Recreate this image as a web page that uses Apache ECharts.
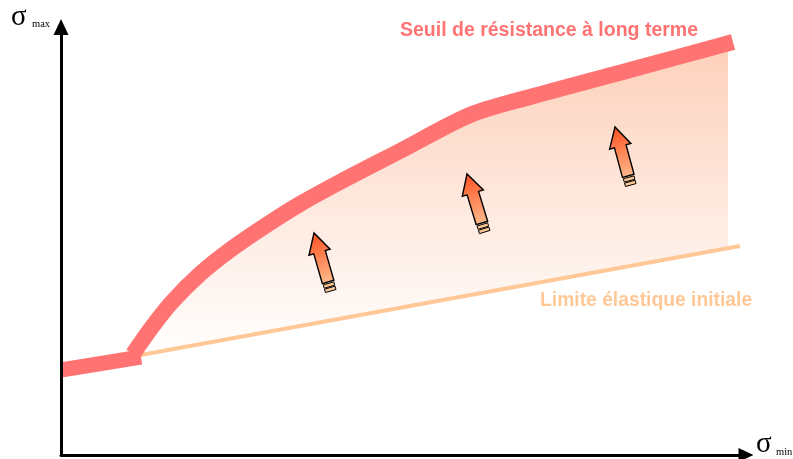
<!DOCTYPE html>
<html><head><meta charset="utf-8">
<script src="https://cdn.jsdelivr.net/npm/echarts@6/dist/echarts.min.js"></script>
<style>html,body{margin:0;padding:0;background:#fff}#c{width:793px;height:459px}</style>
</head><body><div id="c"></div>
<script>
// Data (arbitrary units: x = σmin, y = σmax)
const kneeX = [0, 80];
const kneeY = [85, 98];
const seuilX = [72, 91, 111, 139, 169, 204, 239, 279, 339, 409, 469, 569, 672];
const seuilY = [101, 128, 153, 181, 205, 229, 251, 273, 304, 340, 358, 385, 413];
const limiteX = [74, 679];
const limiteY = [99, 209];
const fillEndX = 667;
const arrowTipX = [253, 406, 554];
const arrowTipY = [222, 281, 328];
const arrowTailX = [270, 424, 570];
const arrowTailY = [163, 222, 269];
const seuilLabel = 'Seuil de résistance à long terme';
const limiteLabel = 'Limite élastique initiale';

const RED = '#ff7373';
const ORANGE = '#ffc896';

const chart = echarts.init(document.getElementById('c'), null, {renderer: 'canvas'});

function pairs(xs, ys) { return xs.map((x, i) => [x, ys[i]]); }

const arrowData = arrowTipX.map((x, i) => [x, arrowTipY[i], arrowTailX[i], arrowTailY[i]]);
const SERIF = '"Liberation Serif", "Times New Roman", serif';
const SANS = '"Liberation Sans", Arial, sans-serif';

chart.setOption({
  animation: false,
  grid: {left: 61, top: 27, right: 47, bottom: 4},
  xAxis: {
    type: 'value', min: 0, max: 685, z: 10,
    axisLine: {show: true, symbol: ['none', 'triangle'], symbolSize: [14, 15], lineStyle: {color: '#000', width: 3}},
    axisTick: {show: false}, axisLabel: {show: false}, splitLine: {show: false}
  },
  yAxis: {
    type: 'value', min: 0, max: 428, z: 10,
    axisLine: {show: true, symbol: ['none', 'triangle'], symbolSize: [15, 16], lineStyle: {color: '#000', width: 3}},
    axisTick: {show: false}, axisLabel: {show: false}, splitLine: {show: false}
  },
  graphic: [
    {type: 'text', x: 11, y: 17, style: {text: 'σ', fill: '#000', fontSize: 29, fontFamily: SERIF, verticalAlign: 'middle'}},
    {type: 'text', x: 32, y: 24, style: {text: 'max', fill: '#000', fontSize: 10.5, fontFamily: SERIF, verticalAlign: 'middle'}},
    {type: 'text', x: 756, y: 444, style: {text: 'σ', fill: '#000', fontSize: 29, fontFamily: SERIF, verticalAlign: 'middle'}},
    {type: 'text', x: 776, y: 452, style: {text: 'min', fill: '#000', fontSize: 10.5, fontFamily: SERIF, verticalAlign: 'middle'}},
    {type: 'text', x: 400, y: 31, style: {text: seuilLabel, fill: RED, fontSize: 19.5, fontWeight: 'bold', fontFamily: SANS, verticalAlign: 'middle'}},
    {type: 'text', x: 540, y: 301, style: {text: limiteLabel, fill: ORANGE, fontSize: 19.3, fontWeight: 'bold', fontFamily: SANS, verticalAlign: 'middle'}}
  ],
  series: [
    {
      type: 'custom', z: 1, silent: true, clip: false,
      data: [[0, 0]],
      renderItem: function (params, api) {
        const pts = seuilX.map((x, i) => api.coord([x, seuilY[i]]));
        pts.push(api.coord([limiteX[1], limiteY[1]]));
        pts.push(api.coord([limiteX[0], limiteY[0]]));
        const edge = api.coord([fillEndX, 0])[0];
        const top = api.coord([0, seuilY[seuilY.length - 1]])[1];
        const bottom = api.coord([0, limiteY[0]])[1];
        return {
          type: 'polygon',
          shape: {points: pts, smooth: 0},
          style: {fill: new echarts.graphic.LinearGradient(0, top, 0, bottom, [
            {offset: 0, color: '#fdd0ba'}, {offset: 1, color: '#ffffff'}], true)},
          clipPath: {type: 'rect', shape: {x: 0, y: 0, width: edge, height: 1000}}
        };
      }
    },
    {
      type: 'line', z: 2, silent: true, showSymbol: false,
      data: pairs(limiteX, limiteY),
      lineStyle: {color: ORANGE, width: 4, cap: 'butt'}
    },
    {
      type: 'line', z: 3, silent: true, showSymbol: false, smooth: 0.3,
      data: pairs(seuilX, seuilY),
      lineStyle: {color: RED, width: 16, cap: 'butt', join: 'round'}
    },
    {
      type: 'line', z: 3, silent: true, showSymbol: false,
      data: pairs(kneeX, kneeY),
      lineStyle: {color: RED, width: 15, cap: 'butt'}
    },
    {
      type: 'custom', z: 4, silent: true, clip: false,
      data: arrowData,
      renderItem: function (params, api) {
        const tip = api.coord([api.value(0), api.value(1)]);
        const tail = api.coord([api.value(2), api.value(3)]);
        const dx = tip[0] - tail[0], dy = tip[1] - tail[1];
        const L = Math.sqrt(dx * dx + dy * dy);
        const ux = dx / L, uy = dy / L;
        const nx = -uy, ny = ux;
        const P = (s, t) => [tail[0] + ux * s + nx * t, tail[1] + uy * s + ny * t];
        const hw = 11, sw = 6, hl = 20;
        const body = [P(10.5, -sw), P(L - hl, -sw), P(L - hl, -hw), P(L, 0), P(L - hl, hw), P(L - hl, sw), P(10.5, sw)];
        const grad = new echarts.graphic.LinearGradient(tip[0], tip[1], tail[0], tail[1], [
          {offset: 0, color: '#ff5222'}, {offset: 1, color: '#fdcc9e'}], true);
        const stripe = (s0, s1) => ({
          type: 'polygon', shape: {points: [P(s0, -sw + 0.5), P(s1, -sw + 0.5), P(s1, sw - 0.5), P(s0, sw - 0.5)]},
          style: {fill: '#fcc593', stroke: '#000', lineWidth: 1}
        });
        return {
          type: 'group',
          children: [
            {type: 'polygon', shape: {points: body}, style: {fill: grad, stroke: '#000', lineWidth: 1.4}},
            stripe(5.5, 9),
            stripe(1, 4.5)
          ]
        };
      }
    }
  ]
});
</script>
</body></html>
